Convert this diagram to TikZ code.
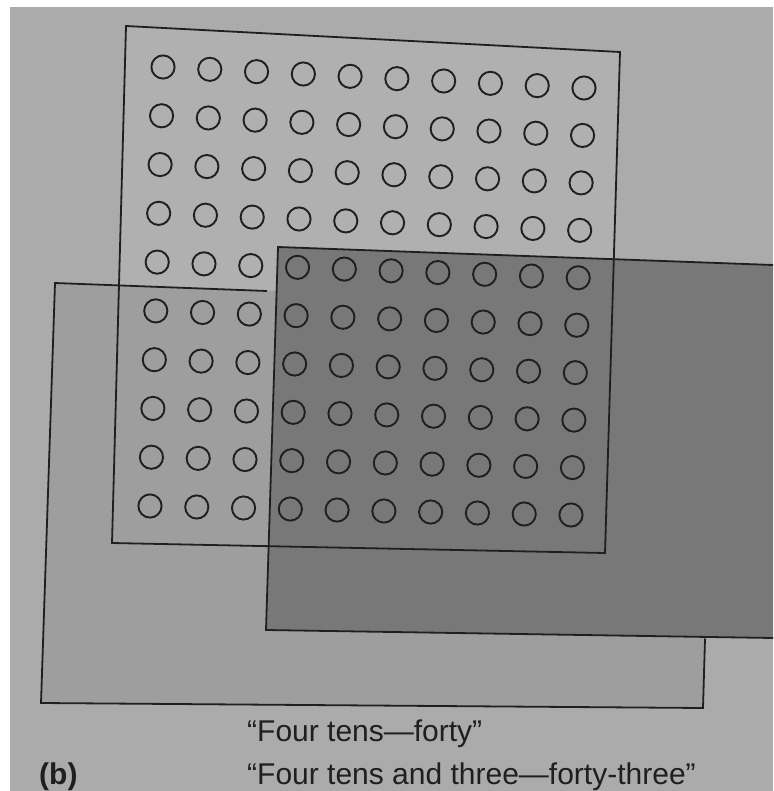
\documentclass[tikz,border=0pt]{standalone}
\usepackage{fontspec}
\setmainfont{Liberation Sans}
\definecolor{paper}{gray}{0.67}
\definecolor{sqfill}{gray}{0.69}
\definecolor{lightfill}{gray}{0.62}
\definecolor{darkfill}{gray}{0.47}
\definecolor{ink}{gray}{0.12}
\tikzset{
  outline/.style={draw=ink, line width=1.8pt, line join=miter},
  counter/.style={draw=ink, line width=1.9pt},
  caption/.style={anchor=base west, inner sep=0pt, text=ink, font=\fontsize{30}{36}\selectfont}
}
\begin{document}
\begin{tikzpicture}[x=1pt,y=-1pt]
\useasboundingbox (0,0) rectangle (773,791);
\fill[white] (0,0) rectangle (773,791);
\fill[paper] (10,7) rectangle (773,791);
% square of one hundred
\fill[sqfill] (126,26) -- (620,52) -- (605,553) -- (112,543) -- cycle;
% light rectangle
\fill[lightfill] (55,283) -- (707,307) -- (703,708) -- (41,703) -- cycle;
% dark rectangle
\fill[darkfill] (278,247) -- (773,265) -- (773,638) -- (266,630) -- cycle;
% outlines
\draw[outline] (267,291) -- (55,283) -- (41,703) -- (703,708) -- (705,638.5);
\draw[outline] (773,265) -- (278,247) -- (266,630) -- (773,638);
\draw[outline] (126,26) -- (620,52) -- (605,553) -- (112,543) -- cycle;
% circles
\foreach \i in {0,...,9}{
  \foreach \j in {0,...,9}{
    \pgfmathsetmacro{\u}{\i/9}
    \pgfmathsetmacro{\v}{\j/9}
    \pgfmathsetmacro{\cx}{163+421*\u-13*\v}
    \pgfmathsetmacro{\cy}{67+21*\u+439*\v-12*\u*\v}
    \draw[counter] (\cx,\cy) circle[radius=11.6];
  }
}
% captions
\node[caption] (cap1) at (247,741) {“Four tens—forty”};
\node[caption] (cap2) at (247,784) {“Four tens and three—forty-three”};
\node[caption, font=\fontsize{30}{36}\selectfont\bfseries] (lab) at (39,784) {(b)};
\end{tikzpicture}
\end{document}
